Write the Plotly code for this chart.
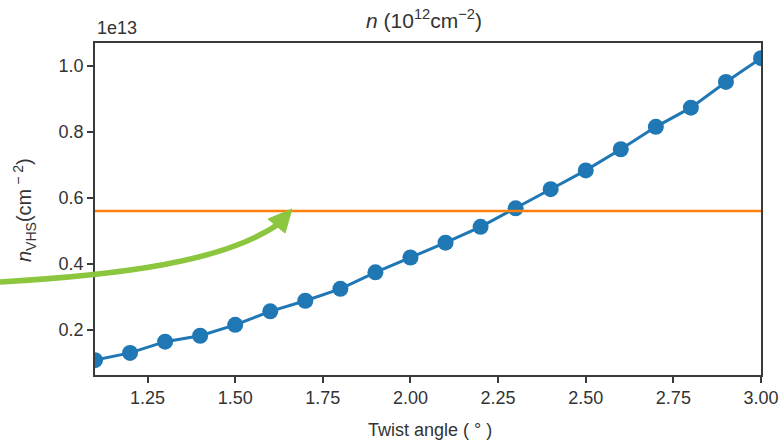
import plotly.graph_objects as go

# Data (y in units of 1e13 cm^-2)
twist_angle = [1.1, 1.2, 1.3, 1.4, 1.5, 1.6, 1.7, 1.8, 1.9, 2.0,
               2.1, 2.2, 2.3, 2.4, 2.5, 2.6, 2.7, 2.8, 2.9, 3.0]
n_vhs = [0.109, 0.131, 0.165, 0.183, 0.216, 0.257, 0.289, 0.325, 0.375, 0.420,
         0.465, 0.513, 0.569, 0.627, 0.684, 0.748, 0.816, 0.874, 0.952, 1.024]
n_ref = 0.561
x_ticks = [1.25, 1.50, 1.75, 2.00, 2.25, 2.50, 2.75, 3.00]
y_ticks = [0.2, 0.4, 0.6, 0.8, 1.0]

W, H = 782, 442
ML, MR, MT, MB = 95, 21, 43, 67
PW, PH = W - ML - MR, H - MT - MB

def px(xp, yp):
    return (xp - ML) / PW, (H - MB - yp) / PH

FONT = "Liberation Sans, Arial, Helvetica, sans-serif"
TXT = "#333333"

fig = go.Figure()
fig.add_trace(go.Scatter(x=twist_angle, y=n_vhs, mode="lines+markers",
                         line=dict(color="#1f77b4", width=3),
                         marker=dict(color="#1f77b4", size=16),
                         showlegend=False))
fig.add_trace(go.Scatter(x=[twist_angle[0], twist_angle[-1]], y=[n_ref, n_ref],
                         mode="lines", line=dict(color="#ff7f0e", width=2.5),
                         showlegend=False))

# green curved arrow (decoration)
p0 = px(0, 282)
c1 = px(120, 275)
c2 = px(225, 262)
p3 = px(280, 223)
path = f"M {p0[0]},{p0[1]} C {c1[0]},{c1[1]} {c2[0]},{c2[1]} {p3[0]},{p3[1]}"
fig.add_shape(type="path", path=path, xref="paper", yref="paper",
              line=dict(color="#8cc63f", width=5.5), layer="above")
t = px(292, 209)
w1 = px(268, 219)
w2 = px(285, 233)
head = f"M {t[0]},{t[1]} L {w1[0]},{w1[1]} L {w2[0]},{w2[1]} Z"
fig.add_shape(type="path", path=head, xref="paper", yref="paper",
              fillcolor="#8cc63f", line=dict(color="#8cc63f", width=1), layer="above")

fig.add_annotation(text="1e13", xref="paper", yref="paper", x=px(95, 0)[0], y=px(0, 28)[1],
                   xanchor="left", yanchor="middle", showarrow=False,
                   font=dict(family=FONT, size=18, color=TXT))
fig.add_annotation(text="<i>n</i> (10<sup>12</sup>cm<sup>−2</sup>)", xref="paper", yref="paper",
                   x=px(424, 0)[0], y=px(0, 19)[1], xanchor="center", yanchor="middle",
                   showarrow=False, font=dict(family=FONT, size=21, color=TXT))
fig.add_annotation(text="<i>n</i><sub>VHS</sub>(cm<sup> − 2</sup>)", xref="paper", yref="paper",
                   x=px(24, 0)[0], y=px(0, 210)[1], xanchor="center", yanchor="middle",
                   textangle=-90, showarrow=False, font=dict(family=FONT, size=20, color=TXT))
fig.add_annotation(text="Twist angle ( ° )", xref="paper", yref="paper",
                   x=px(430, 0)[0], y=px(0, 430)[1], xanchor="center", yanchor="middle",
                   showarrow=False, font=dict(family=FONT, size=18, color=TXT))

axis_common = dict(showgrid=False, zeroline=False, showline=True, mirror=True,
                   linecolor="#3a3a3a", linewidth=1.5, ticks="outside", ticklen=6,
                   tickwidth=1.5, tickcolor="#3a3a3a", automargin=False,
                   tickfont=dict(family=FONT, size=18, color=TXT))
fig.update_xaxes(range=[1.1, 3.0], tickvals=x_ticks, ticktext=[f"{v:.2f}" for v in x_ticks],
                 **axis_common)
fig.update_yaxes(range=[0.064, 1.07], tickvals=y_ticks, ticktext=[f"{v:.1f}" for v in y_ticks],
                 **axis_common)

fig.update_layout(width=W, height=H, margin=dict(l=ML, r=MR, t=MT, b=MB, autoexpand=False),
                  plot_bgcolor="white", paper_bgcolor="white")
fig.write_html("out.html")
